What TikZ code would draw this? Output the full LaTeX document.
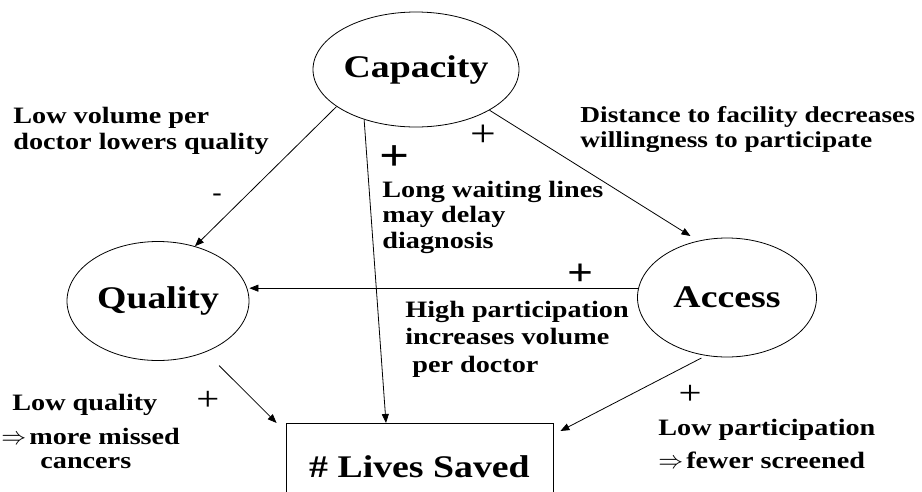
\documentclass[tikz,border=0pt]{standalone}
\usepackage{fontspec}
\setmainfont{Liberation Serif}[FakeStretch=1.2]
\usetikzlibrary{arrows.meta,shapes.geometric}
\begin{document}
\begin{tikzpicture}[x=1pt,y=-1pt,line width=0.8pt,
    bubble/.style={draw,ellipse,inner sep=0pt,font=\bfseries\fontsize{31.5}{36}\selectfont},
    note/.style={anchor=base west,align=left,inner sep=0pt,font=\bfseries\fontsize{23.5}{26}\selectfont},
    sign/.style={inner sep=0pt,font=\fontsize{38}{40}\selectfont},
    arr/.style={-{Triangle[length=9pt,width=7pt]}}]
       \useasboundingbox (0,0) rectangle (922,491);
       \node[bubble,minimum width=206pt,minimum height=115pt] (cap) at (416,69.5) {Capacity};
       \node[bubble,minimum width=182pt,minimum height=119pt] (qual) at (158,301) {Quality};
       \node[bubble,minimum width=179pt,minimum height=119pt] (acc) at (727,297.5) {Access};
       \node[draw,anchor=north,minimum width=267pt,inner ysep=32pt,
         font=\bfseries\fontsize{31.5}{36}\selectfont] (lives) at (419.5,423) {\# Lives Saved};
       \node[note] (volnote) at (13,149) {Low volume per\\doctor lowers quality};
       \node[note,font=\bfseries\fontsize{23.5}{25.5}\selectfont] (waitnote) at (382,248)
         {Long waiting lines\\may delay\\diagnosis};
       \node[note,font=\bfseries\fontsize{22.8}{24.5}\selectfont] (distnote) at (580,147)
         {Distance to facility decreases\\willingness to participate};
       \node[note,font=\bfseries\fontsize{23.5}{27.5}\selectfont] (highnote) at (405,372)
         {High participation\\increases volume\\\hspace*{7pt}per doctor};
       \node[note] (lownote) at (1,468) {\hspace*{11pt}Low quality\\[8pt]
         {\fontsize{24}{24}\selectfont$\Rightarrow$}\hspace*{3pt}more missed\\[-2pt]\hspace*{39pt}cancers};
       \node[note,font=\bfseries\fontsize{23.5}{33}\selectfont] (fewnote) at (658,468)
         {Low participation\\{\fontsize{24}{24}\selectfont$\Rightarrow$}\hspace*{3pt}fewer screened};
       \node[note,anchor=center] (minus) at (217,197) {-};
       \node[sign,font=\bfseries\fontsize{44}{44}\selectfont] (waitsign) at (395,158) {+};
       \node[sign] (distsign) at (483,136) {+};
       \node[sign,font=\bfseries\fontsize{38}{40}\selectfont] (highsign) at (580,275) {+};
       \node[sign,font=\fontsize{34}{36}\selectfont] (lowsign) at (208,401) {+};
       \node[sign,font=\fontsize{34}{36}\selectfont] (fewsign) at (690,395) {+};
       \draw[arr] (cap.205) -- (qual.56);
       \draw[arr] (cap.224) -- ([xshift=-33.5pt]lives.north);
       \draw[arr,shorten >=9pt] (cap.331) -- (acc.117);
       \draw[arr] (acc.174) -- (acc.174 -| qual.east);
       \draw[arr,shorten <=19pt] (qual.-47) -- ([xshift=-9pt]lives.north west);
       \draw[arr,shorten <=5pt] (acc.250) -- ([xshift=7pt,yshift=-8pt]lives.north east);
    \end{tikzpicture}
\end{document}
